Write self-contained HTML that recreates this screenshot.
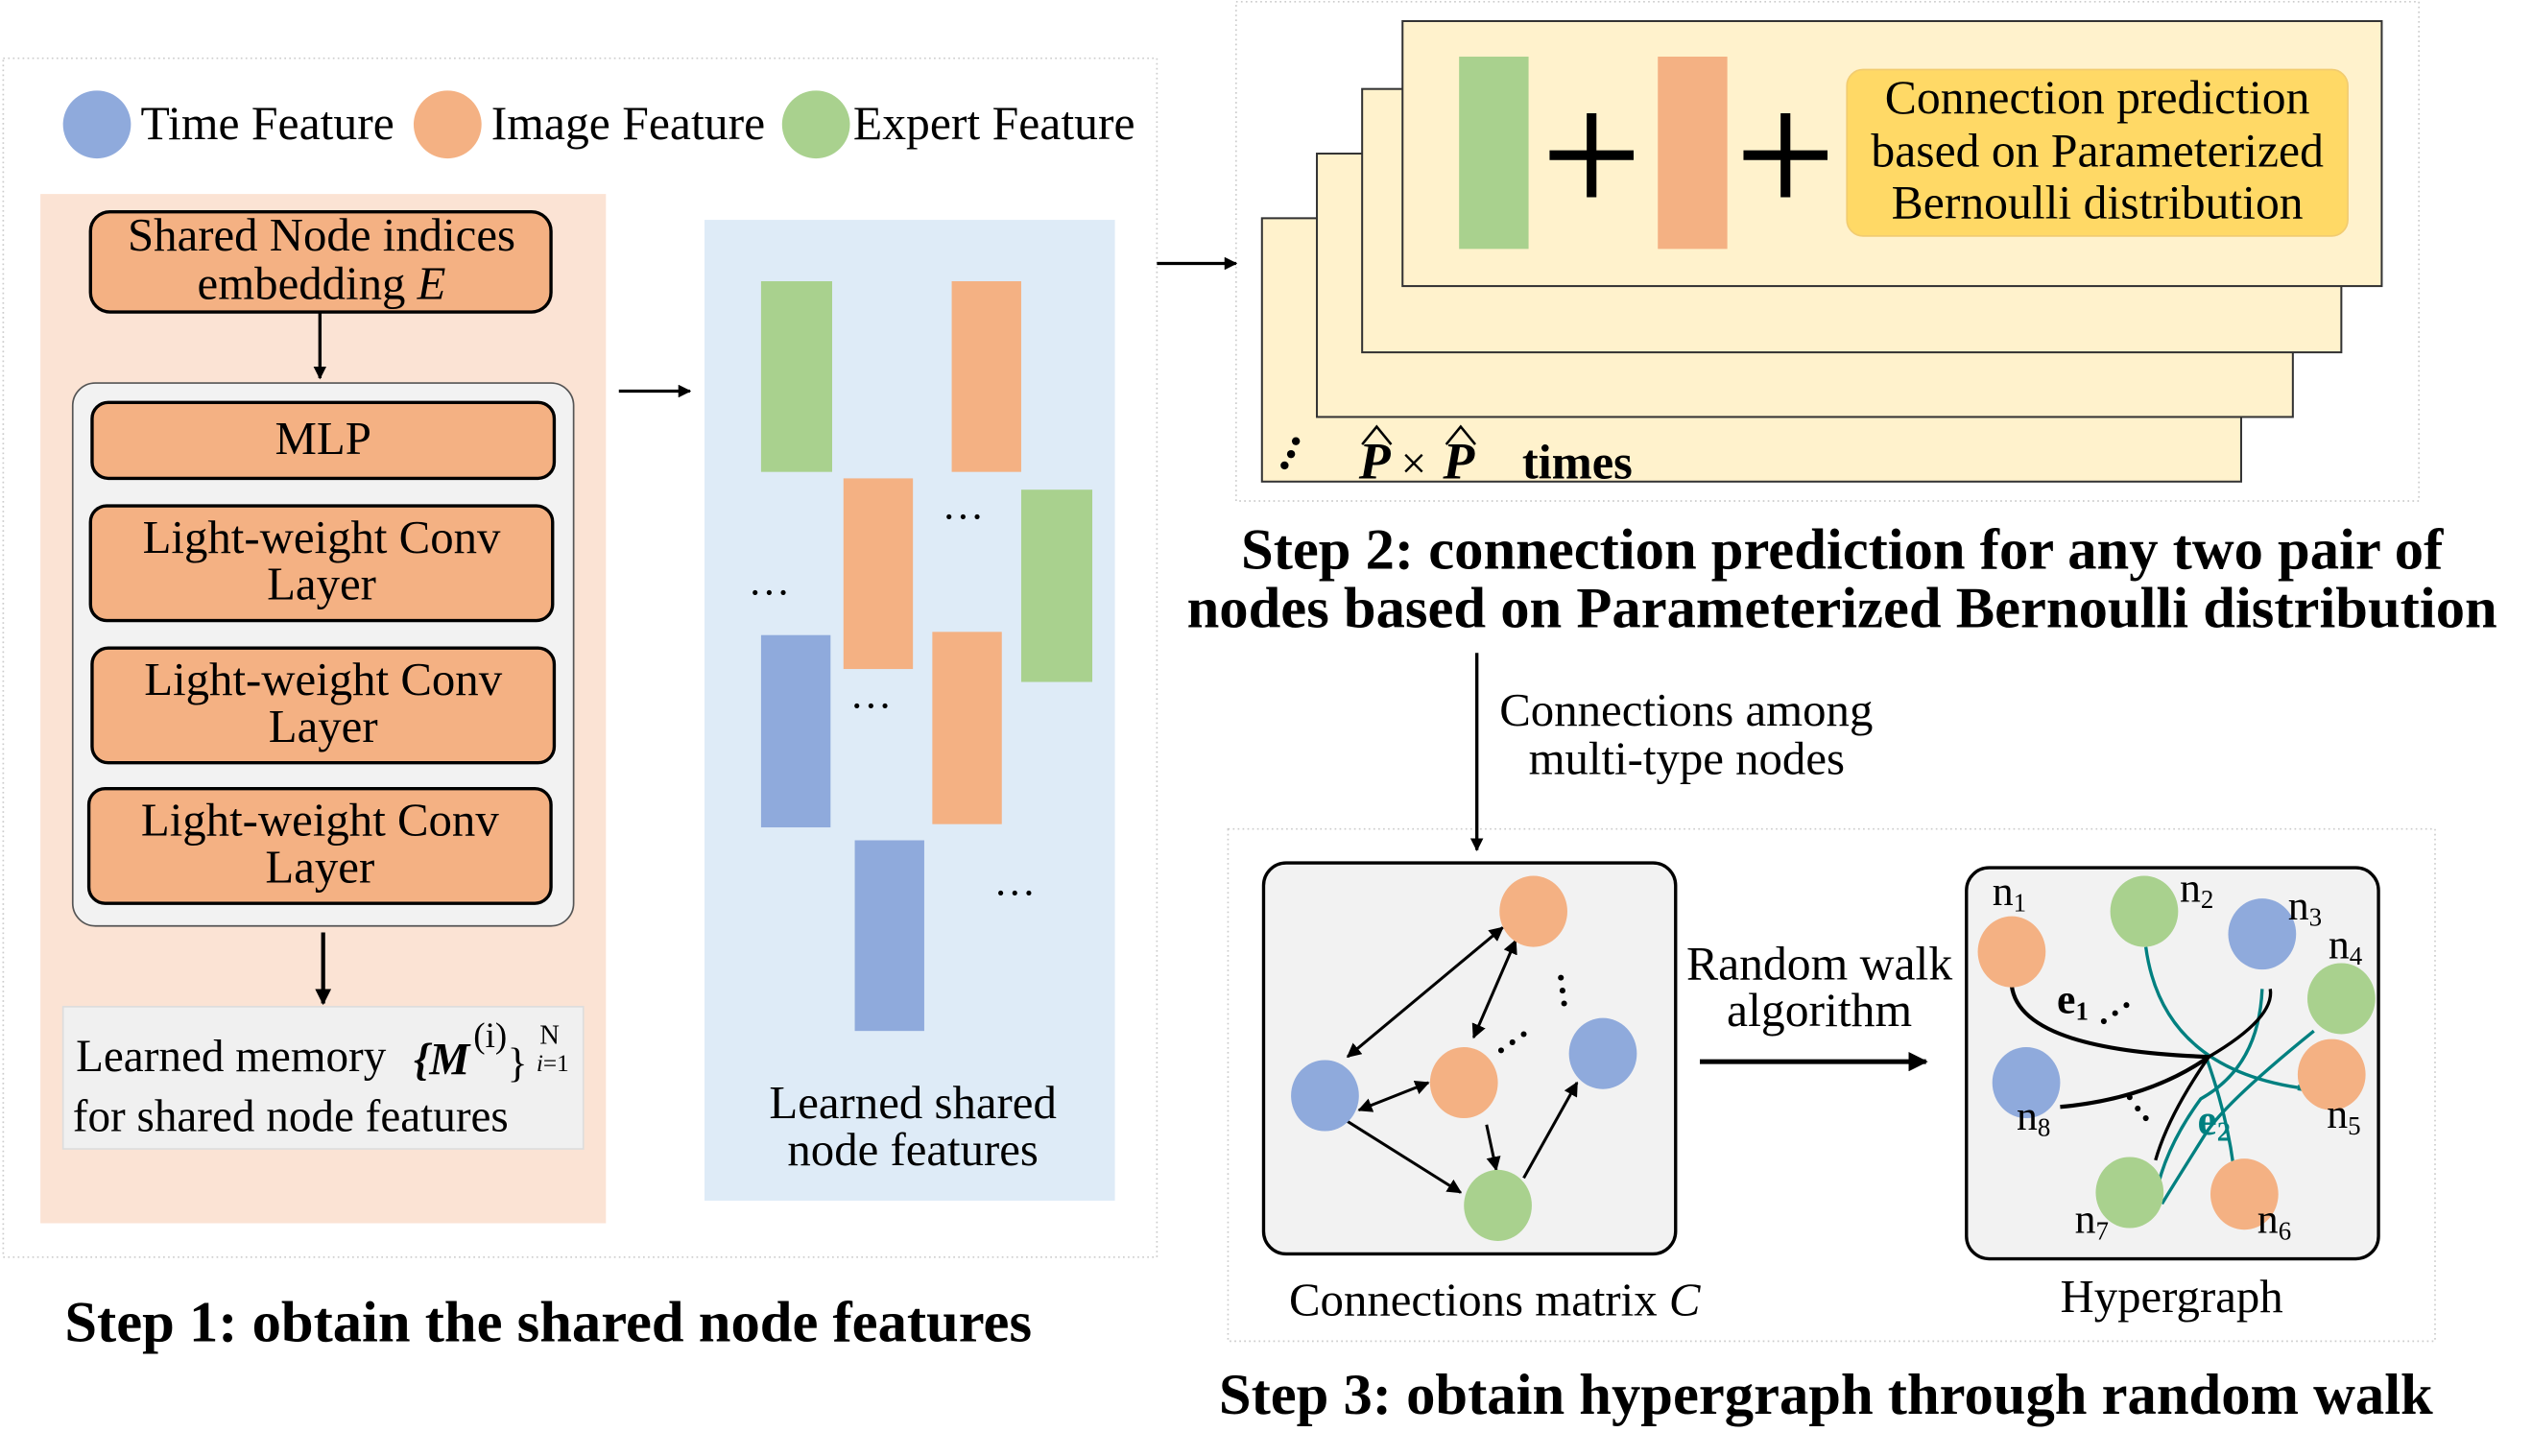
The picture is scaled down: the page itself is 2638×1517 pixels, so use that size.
<!DOCTYPE html>
<html><head><meta charset="utf-8"><style>
html,body{margin:0;padding:0;background:#fff;}
svg{display:block;}
text{font-family:"Liberation Serif",serif;fill:#000;}
</style></head><body>
<svg width="2638" height="1517" viewBox="0 0 1567 901" xmlns="http://www.w3.org/2000/svg">
<defs>
<marker id="a" viewBox="0 0 10 10" refX="9" refY="5" markerWidth="5" markerHeight="5" orient="auto-start-reverse"><path d="M0,0 L10,5 L0,10 z" fill="#000"/></marker>
<marker id="b" viewBox="0 0 10 10" refX="9" refY="5" markerWidth="4" markerHeight="4" orient="auto"><path d="M0,0 L10,5 L0,10 z" fill="#000"/></marker>
</defs>
<rect x="2" y="36" width="714" height="742" fill="none" stroke="#ccc" stroke-dasharray="1,2"/>
<rect x="765" y="1" width="732" height="309" fill="none" stroke="#ccc" stroke-dasharray="1,2"/>
<rect x="760" y="513" width="747" height="317" fill="none" stroke="#ccc" stroke-dasharray="1,2"/>

<circle cx="60" cy="77" r="21" fill="#8faadc"/>
<text x="87" y="86" font-size="29.5">Time Feature</text>
<circle cx="277" cy="77" r="21" fill="#f4b183"/>
<text x="304" y="86" font-size="29.5">Image Feature</text>
<circle cx="505" cy="77" r="21" fill="#a9d18e"/>
<text x="528" y="86" font-size="29.5">Expert Feature</text>

<rect x="25" y="120" width="350" height="637" fill="#fbe3d4"/>
<rect x="56" y="131" width="285" height="62" rx="12" fill="#f4b183" stroke="#000" stroke-width="2"/>
<text x="199" y="155" font-size="29" text-anchor="middle">Shared Node indices</text>
<text x="199" y="185" font-size="29" text-anchor="middle">embedding <tspan font-style="italic">E</tspan></text>
<line x1="198" y1="193" x2="198" y2="234" stroke="#000" stroke-width="2" marker-end="url(#b)"/>
<rect x="45" y="237" width="310" height="336" rx="14" fill="#f2f2f2" stroke="#555" stroke-width="1"/>
<rect x="57" y="249" width="286" height="47" rx="10" fill="#f4b183" stroke="#000" stroke-width="2"/>
<text x="200" y="281" font-size="29" text-anchor="middle">MLP</text>
<rect x="56" y="313" width="286" height="71" rx="10" fill="#f4b183" stroke="#000" stroke-width="2"/>
<text x="199" y="342" font-size="29" text-anchor="middle">Light-weight Conv</text>
<text x="199" y="371" font-size="29" text-anchor="middle">Layer</text>
<rect x="57" y="401" width="286" height="71" rx="10" fill="#f4b183" stroke="#000" stroke-width="2"/>
<text x="200" y="430" font-size="29" text-anchor="middle">Light-weight Conv</text>
<text x="200" y="459" font-size="29" text-anchor="middle">Layer</text>
<rect x="55" y="488" width="286" height="71" rx="10" fill="#f4b183" stroke="#000" stroke-width="2"/>
<text x="198" y="517" font-size="29" text-anchor="middle">Light-weight Conv</text>
<text x="198" y="546" font-size="29" text-anchor="middle">Layer</text>
<line x1="200" y1="577" x2="200" y2="621" stroke="#000" stroke-width="2.5" marker-end="url(#b)"/>
<rect x="39" y="623" width="322" height="88" fill="#f0f0f0" stroke="#ddd"/>
<text x="47" y="663" font-size="28">Learned memory</text>
<text x="256" y="665" font-size="28" font-style="italic" font-weight="bold">{M</text>
<text x="293" y="648" font-size="22">(i)</text>
<text x="314" y="666" font-size="26">}</text>
<text x="334" y="646" font-size="17">N</text>
<text x="332" y="663" font-size="15"><tspan font-style="italic">i</tspan>=1</text>
<text x="45" y="700" font-size="28">for shared node features</text>

<line x1="383" y1="242" x2="427" y2="242" stroke="#000" stroke-width="2" marker-end="url(#b)"/>

<rect x="436" y="136" width="254" height="607" fill="#deebf7"/>
<rect x="471" y="174" width="44" height="118" fill="#a9d18e"/>
<rect x="589" y="174" width="43" height="118" fill="#f4b183"/>
<rect x="522" y="296" width="43" height="118" fill="#f4b183"/>
<rect x="632" y="303" width="44" height="119" fill="#a9d18e"/>
<rect x="471" y="393" width="43" height="119" fill="#8faadc"/>
<rect x="577" y="391" width="43" height="119" fill="#f4b183"/>
<rect x="529" y="520" width="43" height="118" fill="#8faadc"/>
<text x="476" y="368" font-size="26" text-anchor="middle">…</text>
<text x="596" y="321" font-size="26" text-anchor="middle">…</text>
<text x="539" y="438" font-size="26" text-anchor="middle">…</text>
<text x="628" y="554" font-size="26" text-anchor="middle">…</text>
<text x="565" y="692" font-size="29" text-anchor="middle">Learned shared</text>
<text x="565" y="721" font-size="29" text-anchor="middle">node features</text>

<text x="40" y="830" font-size="36" font-weight="bold">Step 1: obtain the shared node features</text>

<line x1="716" y1="163" x2="765" y2="163" stroke="#000" stroke-width="2" marker-end="url(#b)"/>
<rect x="781" y="135" width="606" height="163" fill="#fff2cc" stroke="#333" stroke-width="1.2"/>
<rect x="815" y="95" width="604" height="163" fill="#fff2cc" stroke="#333" stroke-width="1.2"/>
<rect x="843" y="55" width="606" height="163" fill="#fff2cc" stroke="#333" stroke-width="1.2"/>
<rect x="868" y="13" width="606" height="164" fill="#fff2cc" stroke="#333" stroke-width="1.2"/>
<rect x="903" y="35" width="43" height="119" fill="#a9d18e"/>
<rect x="1026" y="35" width="43" height="119" fill="#f4b183"/>
<path d="M985,70 V122 M959,96 H1011" stroke="#000" stroke-width="6"/>
<path d="M1105,70 V122 M1079,96 H1131" stroke="#000" stroke-width="6"/>
<rect x="1143" y="43" width="310" height="103" rx="10" fill="#ffd966" stroke="#f2cc70"/>
<text x="1298" y="70" font-size="29.5" text-anchor="middle">Connection prediction</text>
<text x="1298" y="103" font-size="29.5" text-anchor="middle">based on Parameterized</text>
<text x="1298" y="135" font-size="29.5" text-anchor="middle">Bernoulli distribution</text>
<circle cx="802" cy="273" r="2.5" fill="#000"/><circle cx="799" cy="281" r="2.5" fill="#000"/><circle cx="795" cy="288" r="2.5" fill="#000"/>
<text x="841" y="296" font-size="32" font-style="italic" font-weight="bold">P</text>
<path d="M843,275 L852,264 L861,275" stroke="#000" stroke-width="1.5" fill="none"/>
<text x="867" y="296" font-size="28">×</text>
<text x="893" y="296" font-size="32" font-style="italic" font-weight="bold">P</text>
<path d="M895,275 L904,264 L913,275" stroke="#000" stroke-width="1.5" fill="none"/>
<text x="942" y="296" font-size="30" font-weight="bold">times</text>

<text x="1140" y="352" font-size="36" font-weight="bold" text-anchor="middle">Step 2: connection prediction for any two pair of</text>
<text x="1140" y="388" font-size="36" font-weight="bold" text-anchor="middle">nodes based on Parameterized Bernoulli distribution</text>

<line x1="914" y1="404" x2="914" y2="526" stroke="#000" stroke-width="2" marker-end="url(#b)"/>
<text x="928" y="449" font-size="29">Connections among</text>
<text x="946" y="479" font-size="29">multi-type nodes</text>

<rect x="782" y="534" width="255" height="242" rx="14" fill="#f2f2f2" stroke="#000" stroke-width="2"/>
<g stroke="#000" stroke-width="1.8" fill="none">
<line x1="930" y1="574" x2="834" y2="654" marker-start="url(#a)" marker-end="url(#a)"/>
<line x1="938" y1="582" x2="912" y2="642" marker-start="url(#a)" marker-end="url(#a)"/>
<line x1="841" y1="687" x2="884" y2="670" marker-start="url(#a)" marker-end="url(#a)"/>
<line x1="834" y1="694" x2="904" y2="738" marker-end="url(#a)"/>
<line x1="920" y1="696" x2="926" y2="724" marker-end="url(#a)"/>
<line x1="943" y1="729" x2="976" y2="670" marker-end="url(#a)"/>
</g>
<ellipse cx="949" cy="564" rx="21" ry="22" fill="#f4b183"/>
<ellipse cx="820" cy="678" rx="21" ry="22" fill="#8faadc"/>
<ellipse cx="906" cy="670" rx="21" ry="22" fill="#f4b183"/>
<ellipse cx="992" cy="652" rx="21" ry="22" fill="#8faadc"/>
<ellipse cx="927" cy="746" rx="21" ry="22" fill="#a9d18e"/>
<circle cx="966" cy="605" r="1.8"/><circle cx="967" cy="613" r="1.8"/><circle cx="968" cy="621" r="1.8"/>
<circle cx="929" cy="650" r="1.8"/><circle cx="936" cy="645" r="1.8"/><circle cx="943" cy="640" r="1.8"/>

<text x="1126" y="606" font-size="29.5" text-anchor="middle">Random walk</text>
<text x="1126" y="635" font-size="29.5" text-anchor="middle">algorithm</text>
<line x1="1052" y1="657" x2="1192" y2="657" stroke="#000" stroke-width="3" marker-end="url(#b)"/>

<rect x="1217" y="537" width="255" height="242" rx="14" fill="#f2f2f2" stroke="#000" stroke-width="2"/>
<g fill="none">
<path d="M1328,586 Q1338,660 1422,673" stroke="#008080" stroke-width="2"/>
<path d="M1422,673 L1436,675" stroke="#008080" stroke-width="3.5"/>
<path d="M1400,612 Q1398,660 1362,680 Q1340,710 1334,740" stroke="#008080" stroke-width="2"/>
<path d="M1432,638 Q1380,680 1366,700 Q1344,735 1338,745" stroke="#008080" stroke-width="2"/>
<path d="M1366,656 Q1378,690 1382,720" stroke="#008080" stroke-width="2"/>
<path d="M1245,610 Q1250,650 1367,654" stroke="#000" stroke-width="2.5"/>
<path d="M1275,685 Q1330,680 1367,654" stroke="#000" stroke-width="2.5"/>
<path d="M1405,612 Q1408,630 1367,654" stroke="#000" stroke-width="2"/>
<path d="M1367,654 Q1342,690 1334,718" stroke="#000" stroke-width="2"/>
</g>
<ellipse cx="1245" cy="589" rx="21" ry="22" fill="#f4b183"/>
<ellipse cx="1327" cy="564" rx="21" ry="22" fill="#a9d18e"/>
<ellipse cx="1400" cy="578" rx="21" ry="22" fill="#8faadc"/>
<ellipse cx="1449" cy="618" rx="21" ry="22" fill="#a9d18e"/>
<ellipse cx="1443" cy="665" rx="21" ry="22" fill="#f4b183"/>
<ellipse cx="1389" cy="739" rx="21" ry="22" fill="#f4b183"/>
<ellipse cx="1318" cy="738" rx="21" ry="22" fill="#a9d18e"/>
<ellipse cx="1254" cy="670" rx="21" ry="22" fill="#8faadc"/>
<text x="1233" y="560" font-size="26">n<tspan font-size="16" dy="4">1</tspan></text>
<text x="1349" y="558" font-size="26">n<tspan font-size="16" dy="4">2</tspan></text>
<text x="1416" y="569" font-size="26">n<tspan font-size="16" dy="4">3</tspan></text>
<text x="1441" y="593" font-size="26">n<tspan font-size="16" dy="4">4</tspan></text>
<text x="1440" y="698" font-size="26">n<tspan font-size="16" dy="4">5</tspan></text>
<text x="1397" y="763" font-size="26">n<tspan font-size="16" dy="4">6</tspan></text>
<text x="1284" y="763" font-size="26">n<tspan font-size="16" dy="4">7</tspan></text>
<text x="1248" y="699" font-size="26">n<tspan font-size="16" dy="4">8</tspan></text>
<text x="1273" y="627" font-size="26" font-weight="bold">e<tspan font-size="16" dy="4">1</tspan></text>
<circle cx="1302" cy="632" r="1.8"/><circle cx="1309" cy="627" r="1.8"/><circle cx="1316" cy="622" r="1.8"/>
<circle cx="1318" cy="679" r="1.8"/><circle cx="1323" cy="686" r="1.8"/><circle cx="1328" cy="692" r="1.8"/>
<text x="1360" y="702" font-size="27" font-weight="bold" style="fill:#008080">e<tspan font-size="17" dy="4">2</tspan></text>

<text x="925" y="814" font-size="29" text-anchor="middle">Connections matrix <tspan font-style="italic">C</tspan></text>
<text x="1344" y="812" font-size="29" text-anchor="middle">Hypergraph</text>

<text x="1130" y="875" font-size="36" font-weight="bold" text-anchor="middle">Step 3: obtain hypergraph through random walk</text>
</svg>
</body></html>
